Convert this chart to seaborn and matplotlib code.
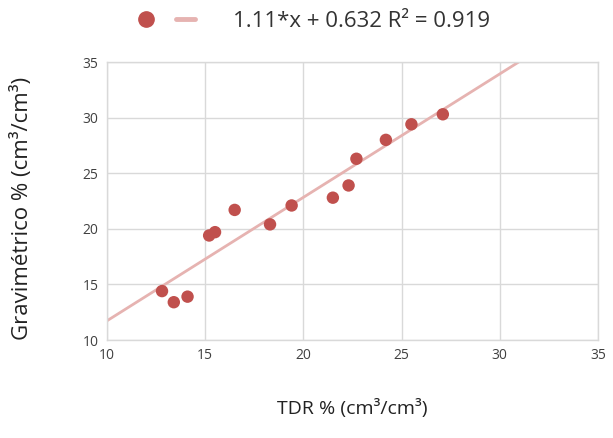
import pandas as pd
import matplotlib
matplotlib.use("Agg")
import matplotlib.pyplot as plt
import seaborn as sns
from matplotlib.lines import Line2D
from matplotlib.legend_handler import HandlerTuple

tdr = [12.8, 13.4, 14.1, 15.2, 15.5, 16.5, 18.3, 19.4, 21.5, 22.3, 22.7, 24.2, 25.5, 27.1]
grav = [14.4, 13.4, 13.9, 19.4, 19.7, 21.7, 20.4, 22.1, 22.8, 23.9, 26.3, 28.0, 29.4, 30.3]
slope = 1.11
intercept = 0.632
label = "1.11*x + 0.632 R² = 0.919"

df = pd.DataFrame({"tdr": tdr, "grav": grav})

sns.set_style("white")
plt.rcParams["font.family"] = ["Open Sans", "DejaVu Sans"]

point_color = "#C0504D"
line_color = "#E6B3B1"
grid_color = "#D9D9D9"

fig = plt.figure(figsize=(6.13, 4.38), dpi=100)
ax = fig.add_axes([0.1746, 0.2237, 0.8009, 0.6347])

ax.axline((0, intercept), slope=slope, color=line_color, lw=2, zorder=1)
sns.scatterplot(data=df, x="tdr", y="grav", ax=ax, color=point_color,
                s=80, edgecolor="none", zorder=2)

ax.set_xlim(10, 35)
ax.set_ylim(10, 35)
ax.set_xticks(range(10, 36, 5))
ax.set_yticks(range(10, 36, 5))
ax.grid(True, color=grid_color, lw=1)
ax.set_axisbelow(True)
for s in ax.spines.values():
    s.set_color(grid_color)
    s.set_linewidth(1)
ax.tick_params(length=0, labelsize=10, colors="#404040", pad=6)

ax.set_xlabel("TDR % (cm³/cm³)", fontsize=14, color="#222222", labelpad=26)
ax.set_ylabel("Gravimétrico % (cm³/cm³)", fontsize=16, color="#222222")
ax.yaxis.set_label_coords(-0.151, 0.475)

marker_h = Line2D([], [], marker="o", color=point_color, linestyle="none", markersize=11)
line_h = Line2D([], [], color=line_color, lw=3.5)
fig.legend([(marker_h, line_h)], [label], loc="upper left",
           bbox_to_anchor=(137 / 613, 0.975), frameon=False, fontsize=16,
           handlelength=2.6, handletextpad=1.7, borderpad=0, borderaxespad=0,
           handler_map={tuple: HandlerTuple(ndivide=None, pad=0.95)},
           labelcolor="#333333")

fig.savefig("out.png", dpi=100)
